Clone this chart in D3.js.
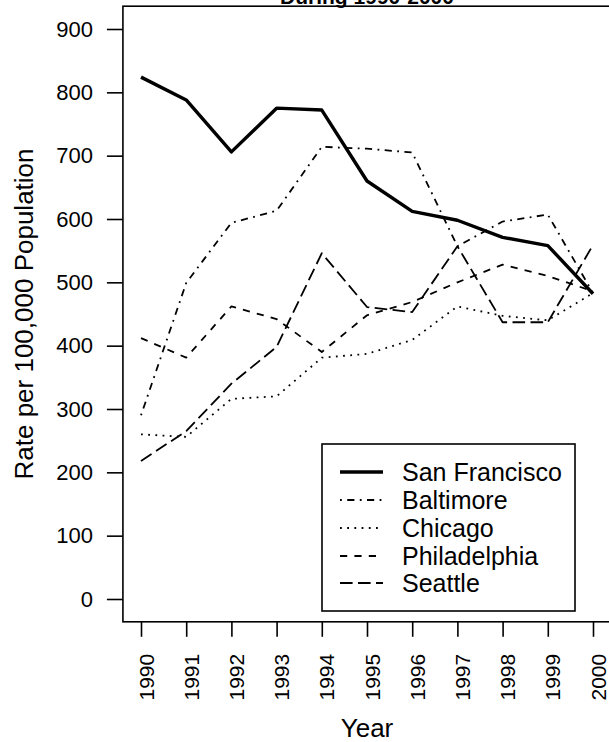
<!DOCTYPE html>
<html>
<head>
<meta charset="utf-8">
<script src="https://cdn.jsdelivr.net/npm/d3@7"></script>
<style>
  html, body { margin: 0; padding: 0; background: #fff; }
  svg { display: block; font-family: "Liberation Sans", Arial, Helvetica, sans-serif; }
</style>
</head>
<body>
<svg id="chart" width="609" height="742"></svg>
<script>
// Rates per 100,000 population by city, 1990-2000
const years = [1990, 1991, 1992, 1993, 1994, 1995, 1996, 1997, 1998, 1999, 2000];
const sanFrancisco = [824, 788, 706, 775, 772, 660, 612, 598, 571, 558, 482];
const baltimore    = [290, 499, 594, 613, 714, 711, 705, 557, 596, 607, 483];
const chicago      = [260, 256, 316, 320, 381, 387, 409, 462, 447, 440, 483];
const philadelphia = [412, 381, 462, 442, 390, 448, 469, 500, 528, 510, 486];
const seattle      = [218, 265, 340, 398, 546, 461, 453, 557, 437, 437, 559];
const yTicks = [0, 100, 200, 300, 400, 500, 600, 700, 800, 900];
const seriesNames = ["San Francisco", "Baltimore", "Chicago", "Philadelphia", "Seattle"];
const seriesValues = [sanFrancisco, baltimore, chicago, philadelphia, seattle];

// line styles per series (R-like lty patterns)
const styles = [
  { width: 3.4, dash: null },
  { width: 1.8, dash: "1.8,5.4,7.2,5.4" },
  { width: 1.8, dash: "1.8,5.4" },
  { width: 1.8, dash: "7.2,7.2" },
  { width: 1.8, dash: "12.6,5.4" }
];

const svg = d3.select("#chart");

// plotting region with 4% padding on each axis
const x = d3.scaleLinear().domain([1990, 2000]).range([141, 593]);
const y = d3.scaleLinear().domain([0, 900]).range([599, 29]);
const xPad = (2000 - 1990) * 0.04, yPad = 900 * 0.04;
const boxL = x(1990 - xPad), boxR = x(2000 + xPad);
const boxT = y(900 + yPad), boxB = y(0 - yPad);

// title (second line visible)
svg.append("text")
  .attr("x", (boxL + boxR) / 2).attr("y", 4)
  .attr("text-anchor", "middle")
  .attr("font-size", 21).attr("font-weight", "bold")
  .text("During 1990-2000");

// frame
svg.append("rect")
  .attr("x", boxL).attr("y", boxT)
  .attr("width", boxR - boxL).attr("height", boxB - boxT)
  .attr("fill", "none").attr("stroke", "#000").attr("stroke-width", 1.6);

// y axis
const yAxis = svg.append("g")
  .attr("transform", `translate(${boxL},0)`)
  .call(d3.axisLeft(y).tickValues(yTicks).tickSize(16).tickPadding(14).tickFormat(d3.format("d")));
yAxis.select(".domain").remove();
yAxis.selectAll("line").attr("stroke-width", 1.6);
yAxis.selectAll("text").attr("font-size", 22).attr("font-family", "Liberation Sans, Arial, sans-serif").attr("fill", "#000");

// x axis with vertical labels
const xAxis = svg.append("g")
  .attr("transform", `translate(0,${boxB})`)
  .call(d3.axisBottom(x).tickValues(years).tickSize(15).tickFormat(d3.format("d")));
xAxis.select(".domain").remove();
xAxis.selectAll("line").attr("stroke-width", 1.6);
xAxis.selectAll("text")
  .attr("font-size", 21).attr("font-family", "Liberation Sans, Arial, sans-serif").attr("fill", "#000")
  .attr("text-anchor", "end")
  .attr("dy", null)
  .attr("x", 0).attr("y", 0)
  .attr("transform", "translate(12,32) rotate(-90)");

// axis titles
svg.append("text")
  .attr("transform", `translate(33,${(y(0) + y(900)) / 2}) rotate(-90)`)
  .attr("text-anchor", "middle")
  .attr("font-size", 26)
  .text("Rate per 100,000 Population");

svg.append("text")
  .attr("x", (boxL + boxR) / 2).attr("y", 737)
  .attr("text-anchor", "middle")
  .attr("font-size", 26)
  .text("Year");

// series lines
const line = d3.line().x((d, i) => x(years[i])).y(d => y(d));
seriesValues.forEach((vals, k) => {
  svg.append("path")
    .datum(vals)
    .attr("d", line)
    .attr("fill", "none")
    .attr("stroke", "#000")
    .attr("stroke-width", styles[k].width)
    .attr("stroke-linejoin", "round")
    .attr("stroke-dasharray", styles[k].dash);
});

// legend
const legend = svg.append("g");
legend.append("rect")
  .attr("x", 322).attr("y", 444).attr("width", 253).attr("height", 167)
  .attr("fill", "#fff").attr("stroke", "#000").attr("stroke-width", 1.6);
const legendY = [472, 500, 528, 556, 583];
seriesNames.forEach((name, k) => {
  legend.append("line")
    .attr("x1", 340).attr("x2", 383)
    .attr("y1", legendY[k]).attr("y2", legendY[k])
    .attr("stroke", "#000")
    .attr("stroke-width", styles[k].width)
    .attr("stroke-dasharray", styles[k].dash);
  legend.append("text")
    .attr("x", 402).attr("y", legendY[k] + 9)
    .attr("font-size", 25)
    .text(name);
});
</script>
</body>
</html>
